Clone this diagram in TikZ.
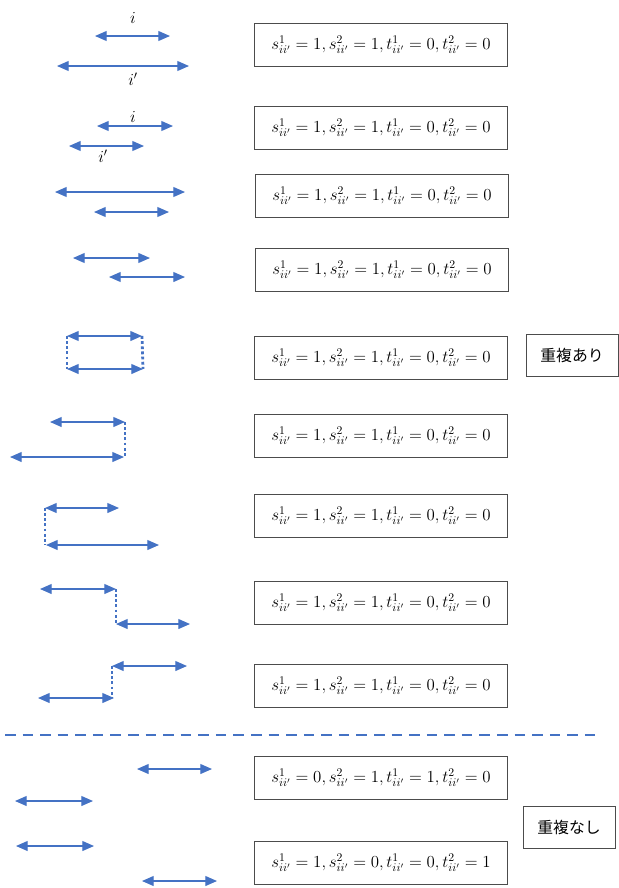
\documentclass[tikz,border=0pt]{standalone}
\usepackage{fontspec}
\newfontfamily\cjk{Noto Sans CJK JP}
\usetikzlibrary{arrows.meta}
\definecolor{lineblue}{RGB}{68,114,196}
\newcommand{\vals}[4]{$s^{1}_{ii'} = #1, s^{2}_{ii'} = #2, t^{1}_{ii'} = #3, t^{2}_{ii'} = #4$}
\tikzset{
    span/.style={lineblue, line width=1pt, {Triangle[length=10pt,width=8.5pt]}-{Triangle[length=10pt,width=8.5pt]}},
    link/.style={lineblue, line width=2.4pt, dotted},
    cut/.style={lineblue, line width=2.4pt, dash pattern=on 9pt off 6pt},
    valbox/.style={draw=black!70, fill=white, minimum width=7.6cm, minimum height=1.3cm, font=\fontsize{14.5}{16}\selectfont},
    tagbox/.style={draw=black!70, minimum width=2.75cm, minimum height=1.25cm, font=\cjk\fontsize{13.5}{15}\selectfont},
    spanlbl/.style={font=\fontsize{14}{16}\selectfont, inner sep=1pt}
}
\begin{document}
    \begin{tikzpicture}[x=0.03cm, y=-0.03cm]
        \useasboundingbox (0,0) rectangle (619,888);
        
        \foreach \n/\xa/\xb/\y in {1/95/170/36, 2/57/189/66, 3/97/173/126, 4/69/144/146,
            5/55/185/192, 6/94/169/212, 7/73/150/258, 8/109/185/277,
            9/67/142/336, 10/67/143/369, 11/50/125/422, 12/10/124/457,
            13/45/119/508, 14/46/159/545, 15/40/116/589, 16/116/190/624,
            17/112/187/666, 18/38/114/698, 19/137/212/769, 20/15/93/801,
            21/16/94/846, 22/142/217/881} {
            \coordinate (l\n) at (\xa,\y);
            \coordinate (r\n) at (\xb,\y);
            \draw[span] (l\n) -- (r\n);
        }
        
        \node[spanlbl] (lbl1) at (133,18) {$i$};
        \node[spanlbl] (lbl2) at (133,79) {$i'$};
        \node[spanlbl] (lbl3) at (133,117) {$i$};
        \node[spanlbl] (lbl4) at (103,156) {$i'$};
        
        \draw[link] (l9) -- (l10);
        \draw[link] (r9) -- (r10);
        \draw[link] (r11) -- (r11 |- r12);
        \draw[link] (l13) -- (l13 |- l14);
        \draw[link] (r15) -- (r15 |- l16);
        \draw[link] (l17) -- (l17 |- r18);
        
        \coordinate (cutl) at (5,735);
        \coordinate (cutr) at (598,735);
        \draw[cut] (cutl) -- (cutr);
        
        \node[valbox] (v1) at (381,45) {\vals{1}{1}{0}{0}};
        \node[valbox] (v2) at (381,128) {\vals{1}{1}{0}{0}};
        \node[valbox] (v3) at (382,196) {\vals{1}{1}{0}{0}};
        \node[valbox] (v4) at (382,270) {\vals{1}{1}{0}{0}};
        \node[valbox] (v5) at (381,358) {\vals{1}{1}{0}{0}};
        \node[valbox] (v6) at (381,436) {\vals{1}{1}{0}{0}};
        \node[valbox] (v7) at (381,516) {\vals{1}{1}{0}{0}};
        \node[valbox] (v8) at (381,603) {\vals{1}{1}{0}{0}};
        \node[valbox] (v9) at (381,686) {\vals{1}{1}{0}{0}};
        \node[valbox] (v10) at (381,778) {\vals{0}{1}{1}{0}};
        \node[valbox] (v11) at (381,863) {\vals{1}{0}{0}{1}};
        
        \node[tagbox] (ov) at (572,355) {重複あり};
        \node[tagbox] (nov) at (569,827) {重複なし};
    \end{tikzpicture}
\end{document}
